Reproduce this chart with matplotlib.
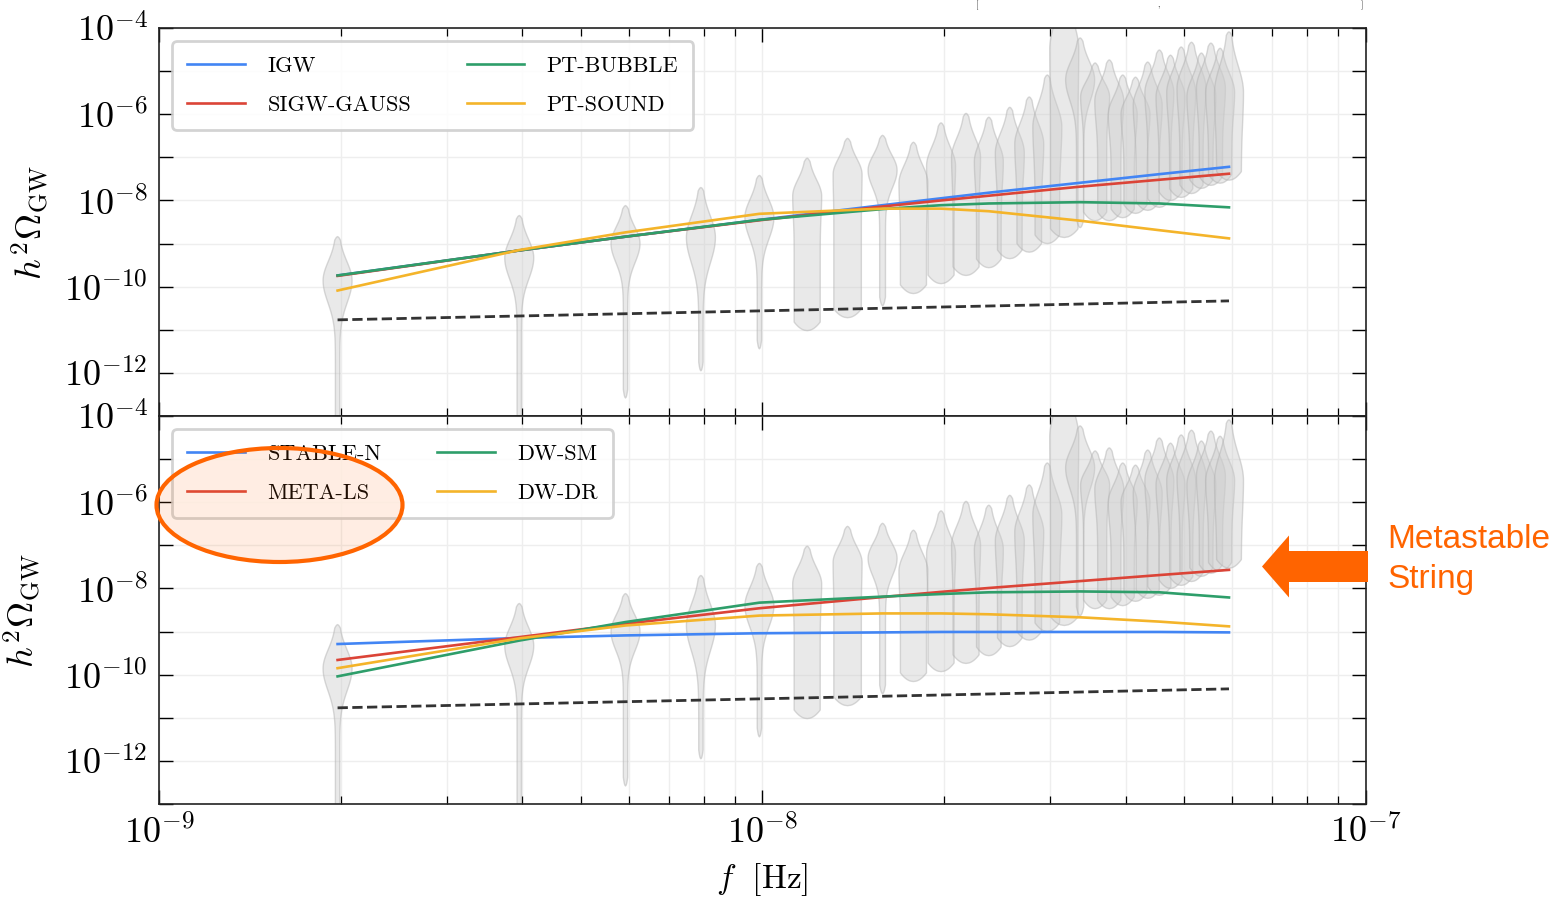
import numpy as np
import matplotlib
matplotlib.use("Agg")
import matplotlib.pyplot as plt
from matplotlib import ticker
from matplotlib.patches import Ellipse, FancyArrow

plt.rcParams['mathtext.fontset'] = 'cm'
plt.rcParams['font.family'] = ['cmr10', 'DejaVu Serif']
plt.rcParams['axes.formatter.use_mathtext'] = True

# NANOGrav-like frequency bins: f_k = k / T_obs
T_OBS = 16.03 * 365.25 * 86400.0
bins = np.arange(1, 31)
freqs = bins / T_OBS

# violin shapes (log10 h^2 Omega): tip, widest point, lower end, body width below widest point
v_top = [-8.84, -8.35, -8.12, -7.70, -7.42, -7.02, -6.56, -6.49, -6.65, -6.20,
         -5.98, -6.07, -5.84, -5.60, -5.09, -3.00, -4.23, -4.81, -4.74, -5.09,
         -5.14, -4.79, -4.51, -4.63, -4.44, -4.33, -4.58, -4.35, -4.47, -4.09]
v_peak = [-9.86, -9.33, -9.00, -8.86, -8.40, -7.90, -7.40, -7.30, -7.60, -7.20,
          -7.00, -7.10, -6.90, -6.70, -6.30, -4.50, -5.20, -5.60, -5.70, -6.00,
          -6.00, -5.80, -5.50, -5.60, -5.50, -5.40, -5.60, -5.40, -5.50, -5.50]
v_bot = [-13.5, -13.5, -12.58, -11.95, -11.44, -11.02, -10.72, -10.44, -10.16, -9.93,
         -9.74, -9.56, -9.35, -9.20, -9.00, -8.86, -8.63, -8.47, -8.47, -8.40,
         -8.30, -8.23, -8.16, -8.00, -7.93, -7.84, -7.72, -7.65, -7.60, -7.53]
v_body = [0.15, 0.15, 0.15, 0.15, 0.15, 0.90, 0.95, 0.20, 0.90, 0.90,
          0.90, 0.85, 0.85, 0.85, 0.85, 0.95, 0.25, 0.80, 0.80, 0.80,
          0.80, 0.80, 0.80, 0.80, 0.80, 0.80, 0.80, 0.80, 0.80, 0.85]

# model curves, read at bins k = 1, 2, 3, 5, 8, 10, 12, 17, 23, 30 (log10 h^2 Omega)
curve_bins = np.array([1, 2, 3, 5, 8, 10, 12, 17, 23, 30])
igw = [-9.74, -9.16, -8.84, -8.45, -8.11, -7.95, -7.82, -7.59, -7.39, -7.22]
sigw_gauss = [-9.75, -9.16, -8.84, -8.46, -8.14, -8.00, -7.89, -7.68, -7.52, -7.38]
pt_bubble = [-9.74, -9.16, -8.84, -8.45, -8.20, -8.11, -8.07, -8.04, -8.07, -8.16]
pt_sound = [-10.09, -9.15, -8.74, -8.31, -8.19, -8.19, -8.25, -8.47, -8.69, -8.88]

stable_n = [-9.29, -9.15, -9.09, -9.04, -9.02, -9.01, -9.01, -9.01, -9.01, -9.02]
meta_ls = [-9.66, -9.13, -8.82, -8.46, -8.20, -8.08, -7.99, -7.83, -7.69, -7.57]
dw_sm = [-10.04, -9.21, -8.78, -8.33, -8.19, -8.13, -8.09, -8.07, -8.09, -8.21]
dw_dr = [-9.85, -9.16, -8.86, -8.63, -8.58, -8.58, -8.60, -8.67, -8.77, -8.88]

# sensitivity-like dashed line, at first and last bin
sens_bins = np.array([1, 30])
sens = [-10.77, -10.33]

top_labels = ['IGW', 'SIGW-GAUSS', 'PT-BUBBLE', 'PT-SOUND']
bot_labels = ['STABLE-N', 'META-LS', 'DW-SM', 'DW-DR']
colors = ['#4285F4', '#DB4437', '#2E9E6A', '#F4B42A']

# tick positions
x_major = [1e-9, 1e-8, 1e-7]
x_minor = [m * 10.0 ** e for e in (-9, -8) for m in range(2, 10)]
y_major = [10.0 ** e for e in range(-13, -3)]

ORANGE = '#ff6400'
W_PX, H_PX = 1560, 901


def violin_outline(f, top, peak, bot, body, half=0.024, n=400):
    y = np.linspace(bot, top, n)
    w = np.empty_like(y)
    up = y >= peak
    su = (top - peak) / 2.3
    w[up] = 0.1 + 0.9 * np.exp(-0.5 * ((y[up] - peak) / su) ** 2)
    sd = (top - peak) / 2.0
    w[~up] = body + (1 - body) * np.exp(-0.5 * ((peak - y[~up]) / sd) ** 2)
    # round off both ends
    w *= np.sqrt(np.clip((y - bot) / 0.2, 0, 1))
    w *= np.sqrt(np.clip((top - y) / 0.08, 0, 1))
    hw = half * w
    xs = np.concatenate([f * 10 ** (-hw), (f * 10 ** hw)[::-1]])
    ys = 10 ** np.concatenate([y, y[::-1]])
    return xs, ys


def even_exp(v, pos):
    e = int(round(np.log10(v)))
    return rf'$10^{{{e}}}$' if e % 2 == 0 else ''


def dec_exp(v, pos):
    e = int(round(np.log10(v)))
    return rf'$10^{{{e}}}$'


def fx(px):
    return px / W_PX


def fy(py):
    return 1 - py / H_PX


fig, axes = plt.subplots(2, 1, sharex=True, figsize=(15.6, 9.01), dpi=100)
fig.subplots_adjust(left=0.1019, right=0.8756, top=0.9689, bottom=0.1077, hspace=0)

panels = [
    (axes[0], [igw, sigw_gauss, pt_bubble, pt_sound], top_labels),
    (axes[1], [stable_n, meta_ls, dw_sm, dw_dr], bot_labels),
]

for ax, series, labels in panels:
    ax.set_xscale('log')
    ax.set_yscale('log')

    for i in range(len(freqs)):
        xs, ys = violin_outline(freqs[i], v_top[i], v_peak[i], v_bot[i], v_body[i])
        ax.fill(xs, ys, facecolor=(0.80, 0.80, 0.80, 0.42),
                edgecolor=(0.70, 0.70, 0.70, 0.5), lw=1.0, zorder=2)

    fc = curve_bins / T_OBS
    for vals, lab, c in zip(series, labels, colors):
        ax.plot(fc, 10 ** np.array(vals), color=c, lw=1.9, label=lab, zorder=4)
    ax.plot(sens_bins / T_OBS, 10 ** np.array(sens), color='#333333', ls='--', lw=2.0, zorder=4)

    ax.set_xlim(1e-9, 1e-7)
    ax.set_ylim(1e-13, 1e-4)
    ax.xaxis.set_major_locator(ticker.FixedLocator(x_major))
    ax.xaxis.set_minor_locator(ticker.FixedLocator(x_minor))
    ax.xaxis.set_major_formatter(ticker.FuncFormatter(dec_exp))
    ax.xaxis.set_minor_formatter(ticker.NullFormatter())
    ax.yaxis.set_major_locator(ticker.FixedLocator(y_major))
    ax.yaxis.set_minor_locator(ticker.NullLocator())
    ax.yaxis.set_major_formatter(ticker.FuncFormatter(even_exp))
    ax.tick_params(which='both', direction='in', top=True, right=True, labelsize=26, pad=8)
    ax.tick_params(which='major', length=10, width=1.0)
    ax.tick_params(which='minor', length=6, width=0.9)
    ax.grid(True, which='both', color='#eeeeee', lw=1.0, zorder=0)
    ax.set_axisbelow(True)
    for s in ax.spines.values():
        s.set_linewidth(1.2)
        s.set_color('#222222')
    ax.set_ylabel(r'$h^2\Omega_{\rm GW}$', fontsize=26)

    leg = ax.legend(loc='upper left', ncol=2, fontsize=16, handlelength=2.6,
                    handletextpad=1.0, columnspacing=2.5, labelspacing=0.86,
                    borderpad=0.68, borderaxespad=0.6, fancybox=True,
                    framealpha=0.85, edgecolor='#cccccc')
    leg.get_frame().set_linewidth(2.0)
    leg.set_zorder(6)

axes[0].tick_params(axis='x', labelbottom=False)
axes[0].yaxis.set_label_coords(-0.089, 0.5)
axes[1].yaxis.set_label_coords(-0.095, 0.5)
axes[1].set_xlabel(r'$f\ \ [\mathrm{Hz}]$', fontsize=24, labelpad=8)

# annotations placed in figure coordinates (converted from pixel positions)
ell = Ellipse((fx(279.5), fy(505)), 246 / W_PX, 114 / H_PX,
              facecolor=(1.0, 0.45, 0.1, 0.12), edgecolor=ORANGE, lw=3.0,
              transform=fig.transFigure, zorder=20)
fig.add_artist(ell)

arrow = FancyArrow(fx(1368), fy(566.5), -106 / W_PX, 0, width=31 / H_PX,
                   head_width=62 / H_PX, head_length=27 / W_PX,
                   length_includes_head=True, color=ORANGE, lw=0,
                   transform=fig.transFigure, zorder=20)
fig.add_artist(arrow)

fig.text(fx(1387), fy(548), 'Metastable', color=ORANGE, fontsize=24,
         family=['Liberation Sans', 'DejaVu Sans'], va='baseline', ha='left')
fig.text(fx(1387), fy(588), 'String', color=ORANGE, fontsize=24,
         family=['Liberation Sans', 'DejaVu Sans'], va='baseline', ha='left')

# remnants of a heading at the very top edge
for xpos, ch in [(977, '['), (1158, ','), (1362, ']')]:
    fig.text(fx(xpos), fy(1), ch, fontsize=6, va='top', ha='center', color='#111111')

fig.savefig('out.png', dpi=100)
